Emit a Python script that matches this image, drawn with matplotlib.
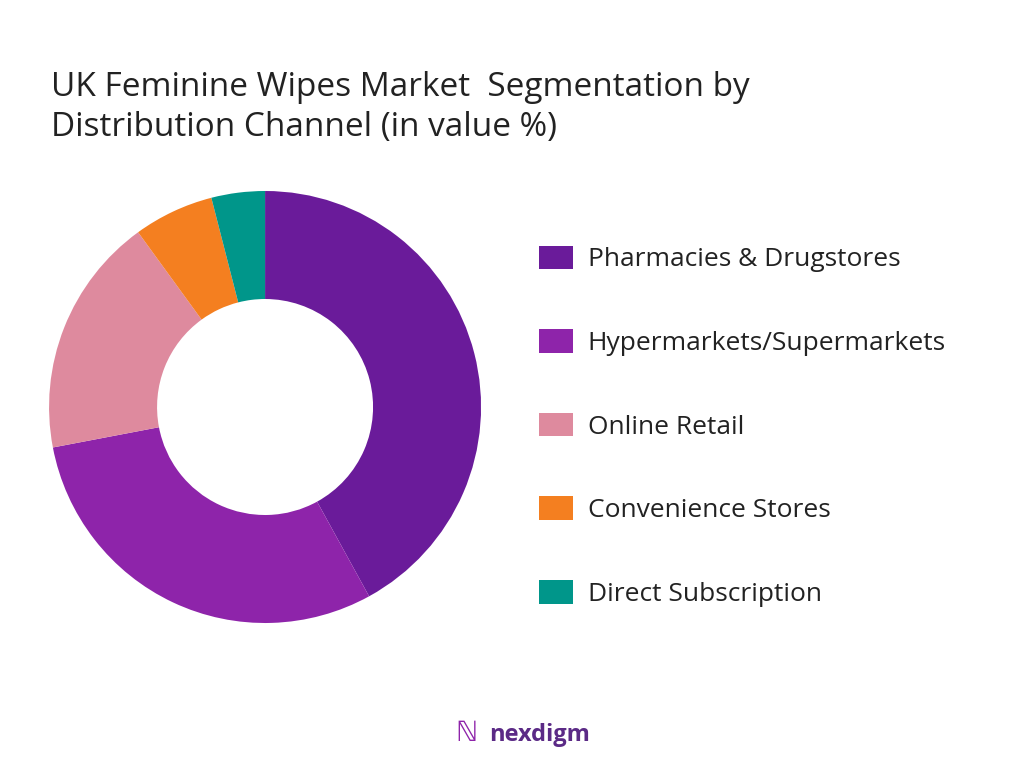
import matplotlib.pyplot as plt
from matplotlib.patches import Patch

labels = ["Pharmacies & Drugstores", "Hypermarkets/Supermarkets", "Online Retail",
          "Convenience Stores", "Direct Subscription"]
values = [42, 30, 18, 6, 4]
colors = ["#6A1B9A", "#8E24AA", "#DE8A9E", "#F47F20", "#00968A"]

plt.rcParams['font.family'] = ['Open Sans', 'DejaVu Sans']
fig = plt.figure(figsize=(10.24, 7.68), dpi=100)
fig.text(0.05, 0.86, "UK Feminine Wipes Market  Segmentation by\nDistribution Channel (in value %)",
         fontsize=24, color="#222222", va="center", linespacing=1.3)

ax = fig.add_axes([0.0479, 0.1888, 0.4219, 0.5625])
ax.pie(values, colors=colors, startangle=90, counterclock=False,
       wedgeprops=dict(width=0.5, edgecolor="none"))
ax.set_xlim(-1, 1)
ax.set_ylim(-1, 1)
ax.set_aspect("equal")

handles = [Patch(facecolor=c) for c in colors]
fig.legend(handles, labels, loc="center left", bbox_to_anchor=(0.503, 0.445),
           frameon=False, fontsize=19, labelspacing=2.15, handlelength=1.3,
           handleheight=1.0, handletextpad=0.55, labelcolor="#222222")

fig.text(0.478, 0.035, "nexdigm", fontsize=17, color="#5B2A86", fontweight="bold", ha="left")
fig.text(0.445, 0.035, "ℕ", fontsize=20, color="#8E24AA", ha="left")
fig.savefig("out.png")
